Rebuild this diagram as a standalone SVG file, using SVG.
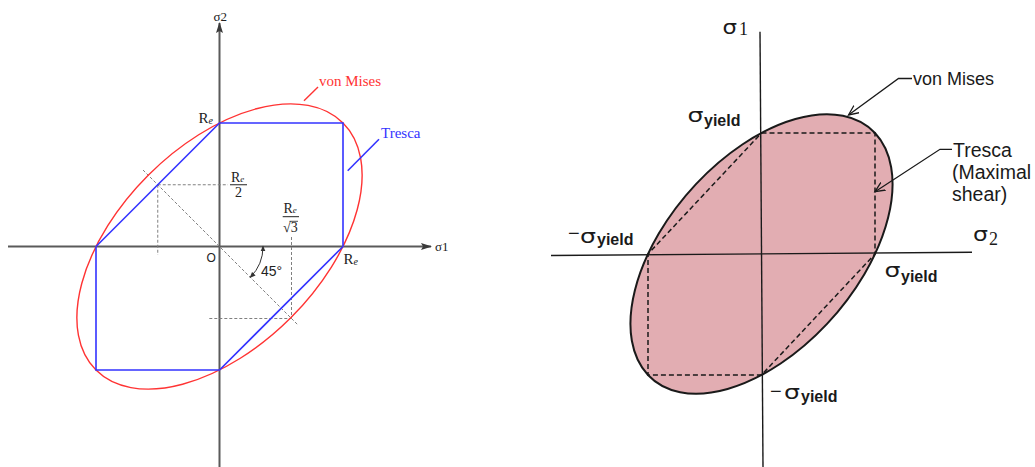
<svg xmlns="http://www.w3.org/2000/svg" width="1035" height="467" viewBox="0 0 1035 467">
<style>
.axisL{stroke:#5a5a5a;stroke-width:2;fill:none}
.dash{stroke:#808080;stroke-width:1;stroke-dasharray:3 2;fill:none}
.blue{stroke:#3333ff;stroke-width:1.6;fill:none}
.red{stroke:#ff3333;stroke-width:1.4;fill:none}
.serif{font-family:"Liberation Serif","DejaVu Serif",serif}
.sans{font-family:"Liberation Sans",Arial,sans-serif}
.axisR{stroke:#1a1a1a;stroke-width:1.4;fill:none}
.lead{stroke:#1a1a1a;stroke-width:1.3;fill:none}
.yl{font-family:"Liberation Sans",Arial,sans-serif;font-weight:bold;font-size:16px;fill:#1a1a1a}
.sg{font-family:"DejaVu Sans","Liberation Sans",sans-serif;font-size:19px;fill:#1a1a1a}
.mn{font-family:"Liberation Sans",Arial,sans-serif;font-size:20px;fill:#1a1a1a}
</style>
<defs>
<marker id="axArrow" markerUnits="userSpaceOnUse" markerWidth="12" markerHeight="8" refX="10" refY="4" orient="auto">
<path d="M0,0.5 L11,4 L0,7.5 L2,4 Z" fill="#3a3a3a"/>
</marker>
<marker id="angArrow" markerUnits="userSpaceOnUse" markerWidth="7" markerHeight="6" refX="5" refY="3" orient="auto-start-reverse">
<path d="M0,0.5 L6,3 L0,5.5 Z" fill="#333"/>
</marker>
<marker id="openArrow" markerUnits="userSpaceOnUse" markerWidth="12" markerHeight="10" refX="10" refY="5" orient="auto">
<path d="M0,0.5 L10,5 L0,9.5" fill="none" stroke="#1a1a1a" stroke-width="1.3"/>
</marker>
</defs>
<rect width="1035" height="467" fill="#ffffff"/>

<!-- LEFT DIAGRAM -->
<g id="left-axes">
<line class="axisL" x1="8" y1="246.5" x2="431" y2="246.5" marker-end="url(#axArrow)"/>
<line class="axisL" x1="219.5" y1="467" x2="219.5" y2="23" marker-end="url(#axArrow)"/>
<text class="serif" x="213.5" y="20.5" font-size="13" fill="#222">σ2</text>
<text class="serif" x="435" y="251" font-size="13" fill="#222">σ1</text>
<text class="sans" x="206.5" y="262" font-size="12" fill="#222">O</text>
</g>

<g id="left-construction">
<line class="dash" x1="157.75" y1="184.75" x2="228" y2="184.75"/>
<line class="dash" x1="157.75" y1="184.75" x2="157.75" y2="255"/>
<line class="dash" x1="143" y1="170" x2="298" y2="325"/>
<line class="dash" x1="291.5" y1="237" x2="291.5" y2="318.5"/>
<line class="dash" x1="209.3" y1="318.5" x2="291.5" y2="318.5"/>
<path d="M263,246.5 A43.5,43.5 0 0 1 250.3,277.3" fill="none" stroke="#333" stroke-width="1" marker-start="url(#angArrow)" marker-end="url(#angArrow)"/>
<text class="sans" x="261" y="275.5" font-size="14" fill="#222">45°</text>
</g>

<g id="left-fractions" class="serif" fill="#222">
<text x="231" y="181.7" font-size="14">R<tspan font-size="9" font-style="italic">e</tspan></text>
<line x1="230" y1="184.75" x2="247" y2="184.75" stroke="#222" stroke-width="1"/>
<text x="235" y="197" font-size="14">2</text>
<text x="283.5" y="213.3" font-size="14">R<tspan font-size="9" font-style="italic">e</tspan></text>
<line x1="282.7" y1="216.7" x2="299" y2="216.7" stroke="#222" stroke-width="1"/>
<text x="283" y="232" font-size="14">√3</text>
<line x1="289.5" y1="221.3" x2="298" y2="221.3" stroke="#222" stroke-width="0.8"/>
</g>

<g id="left-vonMises">
<ellipse class="red" cx="219.5" cy="246.5" rx="174.7" ry="100.8" transform="rotate(-45 219.5 246.5)"/>
<line class="red" x1="304" y1="100.7" x2="318" y2="87"/>
<text class="serif" x="319" y="86" font-size="15" fill="#ff3333">von Mises</text>
</g>

<g id="left-tresca">
<polygon class="blue" points="219.5,123 343,123 343,246.5 219.5,370 96,370 96,246.5"/>
<line class="blue" x1="347.7" y1="170.7" x2="379" y2="139.3" stroke-width="1.3"/>
<text class="serif" x="381" y="138.3" font-size="15" fill="#3333ff">Tresca</text>
</g>

<g id="left-Re-labels" class="serif" fill="#222">
<text x="198.5" y="122.5" font-size="15">R<tspan font-size="10" font-style="italic" dy="1">e</tspan></text>
<text x="343.5" y="263.5" font-size="15">R<tspan font-size="10" font-style="italic" dy="1">e</tspan></text>
</g>

<!-- RIGHT DIAGRAM -->
<g id="right-vonMises">
<ellipse cx="0" cy="0" rx="1.41421" ry="0.8165" transform="translate(761.5,254) scale(113.5,121) rotate(-45)" fill="#e2adb2" stroke="#1a1a1a" stroke-width="2" vector-effect="non-scaling-stroke"/>
</g>
<g id="right-tresca">
<polygon points="761.5,133 875,133 875,254 761.5,375 648,375 648,254" fill="none" stroke="#1a1a1a" stroke-width="1.5" stroke-dasharray="5 3"/>
</g>
<g id="right-axes">
<line class="axisR" x1="551" y1="255.5" x2="972" y2="252.3"/>
<line class="axisR" x1="760" y1="31.7" x2="763" y2="467"/>
<text class="sg" x="722.5" y="33.5" textLength="14.5" lengthAdjust="spacingAndGlyphs">σ</text>
<text class="serif" x="739" y="35" font-size="18" fill="#1a1a1a">1</text>
<text class="sg" x="973" y="240.5" textLength="15" lengthAdjust="spacingAndGlyphs">σ</text>
<text class="serif" x="989" y="245" font-size="18" fill="#1a1a1a">2</text>
</g>

<g id="right-yield-labels">
<text class="sg" x="687.5" y="122" textLength="16" lengthAdjust="spacingAndGlyphs">σ</text><text class="yl" x="704" y="125.5">yield</text>
<text class="mn" x="568" y="240">−</text>
<text class="sg" x="580" y="243.3" textLength="16" lengthAdjust="spacingAndGlyphs">σ</text><text class="yl" x="597" y="245">yield</text>
<text class="sg" x="884.5" y="277" textLength="16" lengthAdjust="spacingAndGlyphs">σ</text><text class="yl" x="901" y="282">yield</text>
<text class="mn" x="770" y="398">−</text>
<text class="sg" x="784" y="398.5" textLength="16" lengthAdjust="spacingAndGlyphs">σ</text><text class="yl" x="801" y="402">yield</text>
</g>

<g id="connectors">
<path class="lead" d="M912,78.5 L898.5,78.5 L848.5,115" marker-end="url(#openArrow)"/>
<path class="lead" d="M952,149.3 L940,149.3 L875,191.7" marker-end="url(#openArrow)"/>
</g>

<g id="right-notes" class="sans" fill="#1a1a1a">
<text x="913" y="85" font-size="18">von Mises</text>
<text x="953" y="157" font-size="19.5">Tresca</text>
<text x="952" y="179" font-size="19.5">(Maximal</text>
<text x="952" y="200.5" font-size="19.5">shear)</text>
</g>
</svg>
